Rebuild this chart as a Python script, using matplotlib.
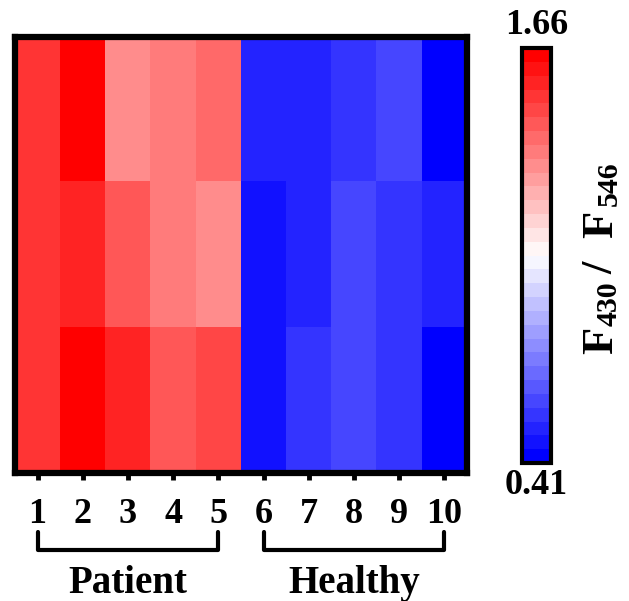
import numpy as np
import matplotlib
matplotlib.use("Agg")
import matplotlib.pyplot as plt
import matplotlib.transforms as mtransforms

plt.rcParams['font.family'] = ['Liberation Serif', 'DejaVu Serif']
plt.rcParams['font.weight'] = 'bold'

samples = ['1', '2', '3', '4', '5', '6', '7', '8', '9', '10']
groups = ['Patient', 'Healthy']
group_spans = [(0, 4), (5, 9)]

# F430/F546 ratio, three replicate rows per sample (top to bottom)
row1 = [1.51, 1.66, 1.31, 1.35, 1.39, 0.51, 0.51, 0.56, 0.60, 0.41]
row2 = [1.51, 1.56, 1.43, 1.35, 1.31, 0.47, 0.51, 0.60, 0.56, 0.51]
row3 = [1.51, 1.66, 1.56, 1.43, 1.47, 0.47, 0.56, 0.60, 0.56, 0.41]
vmin, vmax = 0.41, 1.66

data = np.array([row1, row2, row3])

fig = plt.figure(figsize=(6.29, 6.01), dpi=100)
ax = fig.add_axes([0.0238, 0.213, 0.7186, 0.7255])
cax = fig.add_axes([0.830, 0.2296, 0.046, 0.6905])

cmap = plt.get_cmap('bwr', 30)
im = ax.imshow(data, cmap=cmap, vmin=vmin, vmax=vmax, aspect='auto',
               interpolation='nearest')

for s in ax.spines.values():
    s.set_linewidth(4.5)
ax.set_xticks(range(len(samples)))
ax.set_xticklabels(samples, fontsize=26, fontweight='bold')
ax.set_yticks([])
ax.tick_params(axis='x', length=5, width=3.5, pad=13)

# group brackets
trans = mtransforms.blended_transform_factory(ax.transData, ax.transAxes)
for name, (a, b) in zip(groups, group_spans):
    ax.plot([a, a, b, b], [-0.135, -0.177, -0.177, -0.135], color='black',
            lw=3, transform=trans, clip_on=False, solid_joinstyle='round',
            solid_capstyle='round')
    ax.text((a + b) / 2, -0.275, name, transform=trans, ha='center',
            va='baseline', fontsize=28, fontweight='bold')

cb = fig.colorbar(im, cax=cax)
cb.set_ticks([])
cb.outline.set_linewidth(3)
cax.text(0.5, 1.015, f'{vmax:.2f}', transform=cax.transAxes, ha='center',
         va='bottom', fontsize=26, fontweight='bold')
cax.text(0.5, -0.015, f'{vmin:.2f}', transform=cax.transAxes, ha='center',
         va='top', fontsize=26, fontweight='bold')

# rotated colorbar label F430 / F546, placed piece by piece (big subscripts)
H = 601
pieces = [('F', 32, 612, 354), ('430', 21.5, 617, 326), ('/', 32, 612, 274),
          ('F', 32, 612, 238), ('546', 21.5, 617, 206)]
for txt, fs, px, py in pieces:
    fig.text(px, H - py, txt, fontsize=fs, fontweight='bold', rotation=90,
             rotation_mode='anchor', ha='left', va='baseline',
             transform=mtransforms.IdentityTransform())

fig.savefig('out.png', dpi=100)
